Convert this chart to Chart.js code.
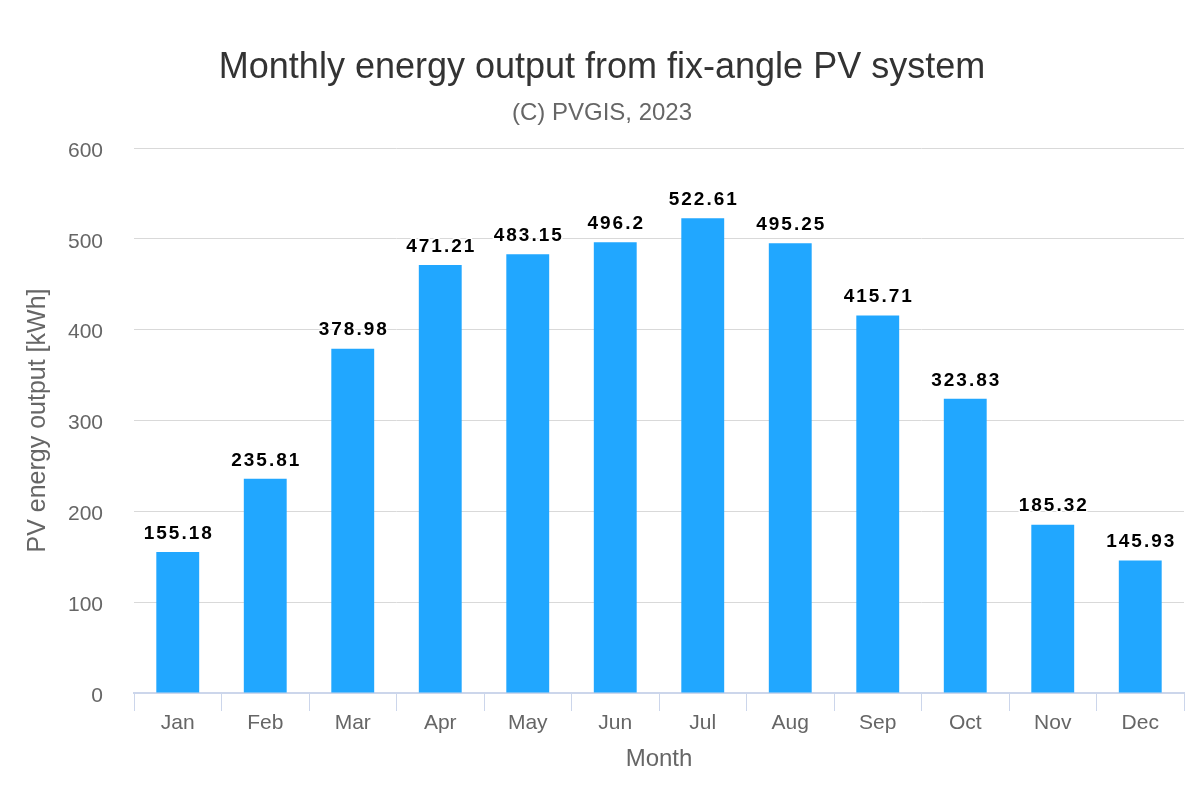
<!DOCTYPE html>
<html>
<head>
<meta charset="utf-8">
<script src="https://cdn.jsdelivr.net/npm/chart.js@4"></script>
<style>
  html, body { margin: 0; padding: 0; background: #fff; }
  #wrap { width: 1204px; height: 800px; }
</style>
</head>
<body>
<div id="wrap"><canvas id="myChart"></canvas></div>
<script>
const months = ['Jan', 'Feb', 'Mar', 'Apr', 'May', 'Jun', 'Jul', 'Aug', 'Sep', 'Oct', 'Nov', 'Dec'];
const energyOutput = [155.18, 235.81, 378.98, 471.21, 483.15, 496.2, 522.61, 495.25, 415.71, 323.83, 185.32, 145.93];
const yTicks = [0, 100, 200, 300, 400, 500, 600];

const FONT = '"Liberation Sans", Arial, sans-serif';

// value labels above each bar
const barLabels = {
  id: 'barLabels',
  afterDatasetsDraw(chart) {
    const c = chart.ctx;
    const meta = chart.getDatasetMeta(0);
    c.save();
    c.font = 'bold 19px ' + FONT;
    c.letterSpacing = '2px';
    c.textAlign = 'center';
    c.textBaseline = 'bottom';
    c.lineJoin = 'round';
    meta.data.forEach((bar, i) => {
      const txt = String(chart.data.datasets[0].data[i]);
      c.lineWidth = 3;
      c.strokeStyle = '#fff';
      c.strokeText(txt, bar.x + 1, bar.y - 9);
      c.fillStyle = '#000';
      c.fillText(txt, bar.x + 1, bar.y - 9);
    });
    c.restore();
  }
};

const ctx = document.getElementById('myChart');

new Chart(ctx, {
  type: 'bar',
  data: {
    labels: months,
    datasets: [{
      label: 'PV energy output',
      data: energyOutput,
      backgroundColor: '#21a7ff',
      borderWidth: 0,
      barPercentage: 0.49,
      categoryPercentage: 1
    }]
  },
  options: {
    responsive: true,
    maintainAspectRatio: false,
    animation: false,
    layout: { padding: { left: 20, right: 20, top: 0, bottom: 0 } },
    plugins: {
      legend: { display: false },
      tooltip: { enabled: false },
      title: {
        display: true,
        text: 'Monthly energy output from fix-angle PV system',
        color: '#333333',
        font: { family: FONT, size: 36, weight: 'normal', lineHeight: 1.2 },
        padding: { top: 46, bottom: 4 }
      },
      subtitle: {
        display: true,
        text: '(C) PVGIS, 2023',
        color: '#666666',
        font: { family: FONT, size: 24, weight: 'normal', lineHeight: 1.2 },
        padding: { top: 6, bottom: 20 }
      }
    },
    scales: {
      x: {
        afterFit(scale) { scale.height = 107; },
        grid: {
          offset: true,
          drawOnChartArea: false,
          drawTicks: true,
          tickLength: 18,
          color: '#ccd6eb',
          lineWidth: 1
        },
        border: { display: true, color: '#ccd6eb', width: 2 },
        ticks: {
          color: '#666666',
          font: { family: FONT, size: 21, lineHeight: 1 },
          padding: 2
        },
        title: {
          display: true,
          text: 'Month',
          color: '#666666',
          font: { family: FONT, size: 24, lineHeight: 1.2 },
          padding: { top: 0, bottom: 26 }
        }
      },
      y: {
        min: 0,
        max: 600,
        afterFit(scale) { scale.width = 114; },
        afterBuildTicks(scale) { scale.ticks = yTicks.map(v => ({ value: v })); },
        grid: {
          color: '#d9d9d9',
          lineWidth: 1,
          drawTicks: false
        },
        border: { display: false },
        ticks: {
          color: '#666666',
          font: { family: FONT, size: 21 },
          padding: 31,
          labelOffset: 3
        },
        title: {
          display: true,
          text: 'PV energy output [kWh]',
          color: '#666666',
          font: { family: FONT, size: 25, lineHeight: 1.2 },
          padding: { top: 3, bottom: 0 }
        }
      }
    }
  },
  plugins: [barLabels]
});
</script>
</body>
</html>
